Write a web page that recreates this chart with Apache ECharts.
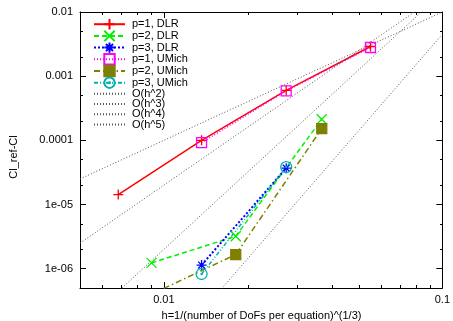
<!DOCTYPE html>
<html><head><meta charset="utf-8">
<script src="https://cdn.jsdelivr.net/npm/echarts@6/dist/echarts.min.js"></script>
<style>html,body{margin:0;padding:0;background:#fff}#c{width:453px;height:321px}</style>
</head><body><div id="c"></div>
<script>
// ---- data ----
const hDLR1 = [0.00686, 0.01366, 0.0275, 0.0552];
const errDLR1 = [1.43e-5, 1.0e-4, 6.0e-4, 2.9e-3];
const hDLR2 = [0.00903, 0.01812, 0.0369];
const errDLR2 = [1.23e-6, 3.2e-6, 2.13e-4];
const hDLR3 = [0.01366, 0.0275];
const errDLR3 = [1.14e-6, 3.69e-5];
const hUM1 = [0.01366, 0.0275, 0.0552];
const errUM1 = [9.2e-5, 5.9e-4, 2.8e-3];
const hUM2 = [0.00903, 0.01812, 0.0369];
const errUM2 = [4.0e-7, 1.66e-6, 1.52e-4];
const hUM3 = [0.01366, 0.0275];
const errUM3 = [8.26e-7, 3.83e-5];
// reference order lines: end values read at h = 0.005 and h = 0.1
const hRef = [0.005, 0.1];
const refH2 = [2.5e-5, 1.0e-2];
const refH3 = [2.5e-6, 2.0e-2];
const refH4 = [1.25e-7, 2.0e-2];
const refH5 = [1.4e-9, 4.5e-3];

const seriesNames = ['p=1, DLR', 'p=2, DLR', 'p=3, DLR', 'p=1, UMich', 'p=2, UMich', 'p=3, UMich',
  'O(h^2)', 'O(h^3)', 'O(h^4)', 'O(h^5)'];

// tick values and labels
const xMajor = [0.01, 0.1];
const xMajorLabels = ['0.01', '0.1'];
const xMinor = [0.006, 0.007, 0.008, 0.009, 0.02, 0.03, 0.04, 0.05, 0.06, 0.07, 0.08, 0.09];
const yMajor = [1e-6, 1e-5, 1e-4, 1e-3, 1e-2];
const yMajorLabels = ['1e-06', '1e-05', '0.0001', '0.001', '0.01'];
const yMinor = [2e-6, 5e-6, 2e-5, 5e-5, 2e-4, 5e-4, 2e-3, 5e-3];

const X_MIN = 0.005, X_MAX = 0.1, Y_MIN = 5e-7, Y_MAX = 0.01;

// ---- chart ----
const pairs = (xs, ys) => xs.map((x, i) => [x, ys[i]]);
const FONT = 'Liberation Sans, Arial, sans-serif';
const SYM_PLUS = 'path://M0,5L10,5M5,0L5,10';
const SYM_CROSS = 'path://M0,0L10,10M0,10L10,0';
const SYM_STAR = 'path://M0,5L10,5M5,0L5,10M1.6,1.6L8.4,8.4M1.6,8.4L8.4,1.6';
const SYM_SQ = 'path://M0,0L10,0L10,10L0,10Z';
const SYM_CIRC = 'path://M0,5A5,5,0,1,0,10,5A5,5,0,1,0,0,5ZM4.5,5A0.5,0.5,0,1,0,5.5,5A0.5,0.5,0,1,0,4.5,5Z';

function mk(name, xs, ys, color, dash, width, symbol, size, fill) {
  return {
    name, type: 'line', data: pairs(xs, ys), xAxisIndex: 0, yAxisIndex: 0,
    symbol, symbolSize: size, showAllSymbol: true, clip: true, animation: false,
    lineStyle: { color, width, type: dash },
    itemStyle: { color: fill, borderColor: color, borderWidth: 1.3 },
    emphasis: { disabled: true }
  };
}
function ref(name, ys) {
  return {
    name, type: 'line', data: pairs(hRef, ys), xAxisIndex: 0, yAxisIndex: 0,
    symbol: 'none', clip: true, animation: false,
    lineStyle: { color: '#555', width: 1, type: [1, 2] },
    itemStyle: { color: 'rgba(0,0,0,0)', borderWidth: 0 },
    emphasis: { disabled: true }
  };
}

const series = [
  mk(seriesNames[0], hDLR1, errDLR1, '#ff0000', 'solid', 1.5, SYM_PLUS, 10, '#ff0000'),
  mk(seriesNames[1], hDLR2, errDLR2, '#00f000', [5, 3], 1.5, SYM_CROSS, 10, '#00f000'),
  mk(seriesNames[2], hDLR3, errDLR3, '#0000ff', [2, 2], 2, SYM_STAR, 10, '#0000ff'),
  mk(seriesNames[3], hUM1, errUM1, '#ff00ff', [1, 2], 1.5, SYM_SQ, 10, 'rgba(0,0,0,0)'),
  mk(seriesNames[4], hUM2, errUM2, '#808000', [6, 3, 1.5, 3], 1.5, 'rect', 10, '#808000'),
  mk(seriesNames[5], hUM3, errUM3, '#00b0b0', [4, 2, 1, 2, 1, 2], 1.5, SYM_CIRC, 11, 'rgba(0,0,0,0)'),
  ref(seriesNames[6], refH2),
  ref(seriesNames[7], refH3),
  ref(seriesNames[8], refH4),
  ref(seriesNames[9], refH5)
];

function lookup(vals, labels) {
  return function (v) {
    const i = vals.findIndex(t => Math.abs(Math.log10(t) - Math.log10(v)) < 1e-6);
    return i >= 0 ? labels[i] : '';
  };
}

function xAx(g, position, major, showLabel) {
  return {
    type: 'log', logBase: 10, min: X_MIN, max: X_MAX, position, gridIndex: g,
    axisLine: { show: major, lineStyle: { color: '#000', width: 1 } },
    axisTick: { show: true, inside: true, length: major ? 6 : 3, customValues: major ? xMajor : xMinor,
      lineStyle: { color: '#000', width: 1 } },
    axisLabel: { show: showLabel, customValues: xMajor, formatter: lookup(xMajor, xMajorLabels),
      margin: 6, fontSize: 11, color: '#000', fontFamily: FONT },
    splitLine: { show: false }, minorTick: { show: false }
  };
}
function yAx(g, position, major, showLabel) {
  return {
    type: 'log', logBase: 10, min: Y_MIN, max: Y_MAX, position, gridIndex: g,
    axisLine: { show: major, lineStyle: { color: '#000', width: 1 } },
    axisTick: { show: true, inside: true, length: major ? 6 : 3, customValues: major ? yMajor : yMinor,
      lineStyle: { color: '#000', width: 1 } },
    axisLabel: { show: showLabel, customValues: yMajor, formatter: lookup(yMajor, yMajorLabels),
      margin: 7, fontSize: 11, color: '#000', fontFamily: FONT },
    splitLine: { show: false }, minorTick: { show: false }
  };
}

const gridRect = { left: 80, top: 12, right: 10, bottom: 33, containLabel: false };
const chart = echarts.init(document.getElementById('c'), null, { renderer: 'canvas' });
chart.setOption({
  animation: false,
  backgroundColor: '#fff',
  grid: [gridRect, gridRect],
  xAxis: [xAx(0, 'bottom', true, true), xAx(0, 'top', true, false), xAx(1, 'bottom', false, false), xAx(1, 'top', false, false)],
  yAxis: [yAx(0, 'left', true, true), yAx(0, 'right', true, false), yAx(1, 'left', false, false), yAx(1, 'right', false, false)],
  legend: {
    data: seriesNames, orient: 'vertical', left: 93, top: 18, padding: 0,
    itemWidth: 31, itemHeight: 13, itemGap: -0.7, selectedMode: false,
    textStyle: { fontSize: 11, color: '#000', fontFamily: FONT, lineHeight: 11, padding: [0, 0, 0, 2] }
  },
  graphic: [
    { type: 'text', x: 14, y: 157, rotation: Math.PI / 2,
      style: { text: 'Cl_ref-Cl', fontSize: 11, fontFamily: FONT, fill: '#000', align: 'center', verticalAlign: 'middle' } },
    { type: 'text', x: 261.5, y: 316,
      style: { text: 'h=1/(number of DoFs per equation)^(1/3)', fontSize: 11, fontFamily: FONT, fill: '#000', align: 'center', verticalAlign: 'middle' } }
  ],
  series
});
</script></body></html>
